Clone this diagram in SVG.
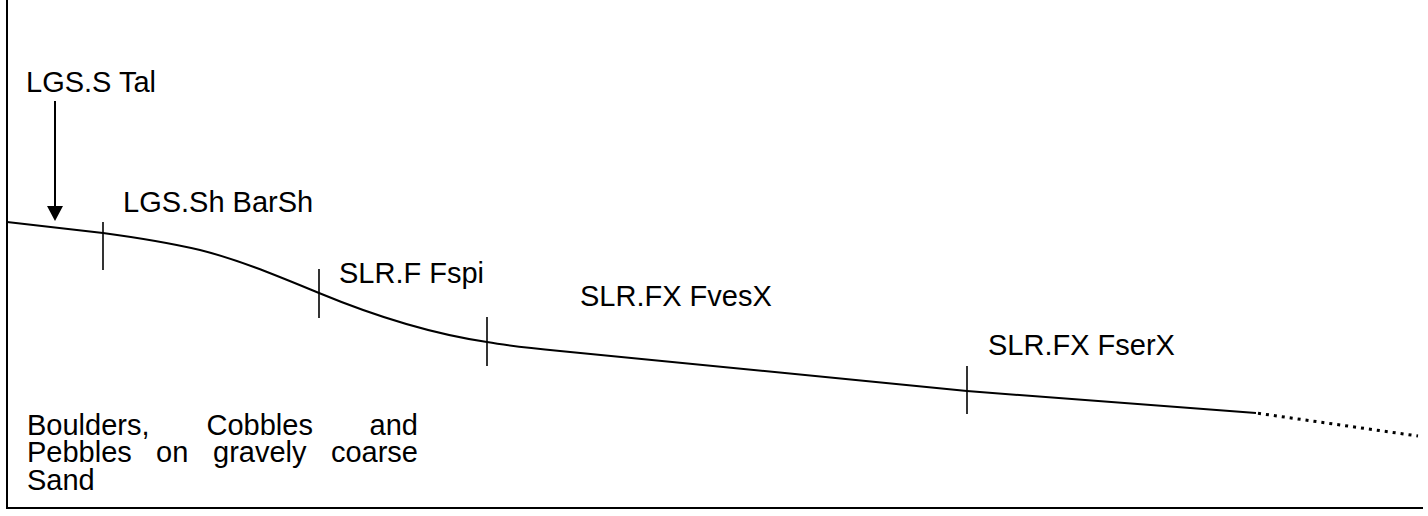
<svg xmlns="http://www.w3.org/2000/svg" width="1428" height="516" viewBox="0 0 1428 516">
<style>
.t{font-family:"Liberation Sans",Arial,sans-serif;font-size:29px;fill:#000}
.e{text-anchor:end}
.ln{fill:none;stroke:#000;stroke-width:2}
.tk{stroke:#000;stroke-width:1.6}
</style>
<rect width="1428" height="516" fill="#fff"/>
<g id="frame">
<path class="ln" d="M7,0 L7,508 L1423,508"/>
</g>
<g id="connectors">
<path class="ln" d="M7,222 L103,233 C140,238 170,243 200,250 C240,260 280,277 319,293 C360,310 420,332 487,342 C510,346 530,348 560,351 L967,391 L1256,413"/>
<path fill="none" stroke="#000" stroke-width="3" stroke-dasharray="3 5" d="M1258,413.3 L1418,436"/>
<line x1="55" y1="101" x2="55" y2="206" stroke="#000" stroke-width="2"/>
<path d="M47,206 L63,206 L55,221 Z" fill="#000"/>
</g>
<g id="ticks">
<line class="tk" x1="103" y1="222" x2="103" y2="270"/>
<line class="tk" x1="319" y1="269" x2="319" y2="318"/>
<line class="tk" x1="487" y1="317" x2="487" y2="366"/>
<line class="tk" x1="967" y1="366" x2="967" y2="414"/>
</g>
<g id="label-lgs-s-tal"><text class="t" x="26" y="91.5">LGS.S Tal</text></g>
<g id="label-lgs-sh-barsh"><text class="t" x="123" y="212">LGS.Sh BarSh</text></g>
<g id="label-slr-f-fspi"><text class="t" x="339" y="283">SLR.F Fspi</text></g>
<g id="label-slr-fx-fvesx"><text class="t" x="580" y="306">SLR.FX FvesX</text></g>
<g id="label-slr-fx-fserx"><text class="t" x="988" y="355">SLR.FX FserX</text></g>
<g id="label-substrate">
<text class="t" x="27" y="435">Boulders,</text>
<text class="t" x="206.5" y="435">Cobbles</text>
<text class="t e" x="418" y="435">and</text>
<text class="t" x="27" y="462">Pebbles</text>
<text class="t" x="156" y="462">on</text>
<text class="t" x="213" y="462">gravely</text>
<text class="t e" x="418" y="462">coarse</text>
<text class="t" x="27" y="490">Sand</text>
</g>
</svg>
